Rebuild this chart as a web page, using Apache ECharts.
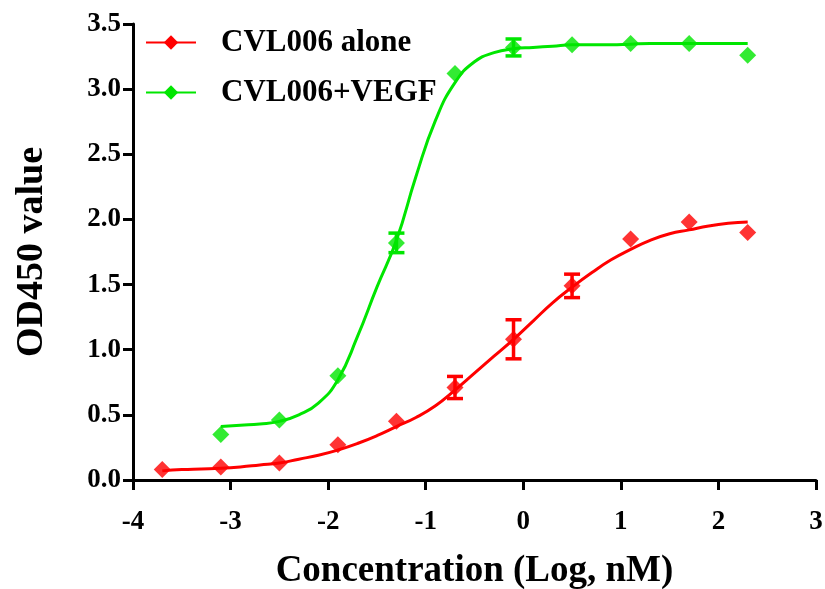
<!DOCTYPE html>
<html>
<head>
<meta charset="utf-8">
<script src="https://cdn.jsdelivr.net/npm/echarts@6/dist/echarts.min.js"></script>
<style>html,body{margin:0;padding:0;background:#fff}#c{width:825px;height:589px}</style>
</head>
<body>
<div id="c"></div>
<script>
// ---- data ----
const seriesNames = ['CVL006 alone', 'CVL006+VEGF'];
const xTicks = [-4, -3, -2, -1, 0, 1, 2, 3];
const yTicks = [0.0, 0.5, 1.0, 1.5, 2.0, 2.5, 3.0, 3.5];

const aloneX = [-3.7, -3.1, -2.5, -1.9, -1.3, -0.7, -0.1, 0.5, 1.1, 1.7, 2.3];
const aloneY = [0.08, 0.10, 0.13, 0.27, 0.45, 0.71, 1.08, 1.49, 1.85, 1.98, 1.90];
const aloneErr = [0, 0, 0, 0, 0, 0.085, 0.15, 0.09, 0, 0, 0];

const vegfX = [-3.1, -2.5, -1.9, -1.3, -0.7, -0.1, 0.5, 1.1, 1.7, 2.3];
const vegfY = [0.35, 0.46, 0.80, 1.82, 3.12, 3.32, 3.34, 3.35, 3.35, 3.26];
const vegfErr = [0, 0, 0, 0.075, 0, 0.065, 0, 0, 0, 0];

// fitted curves (every 0.2 log units)
const aloneCurveX = [-3.7, -3.5, -3.3, -3.1, -2.9, -2.7, -2.5, -2.3, -2.1, -1.9, -1.7, -1.5, -1.3, -1.1, -0.9, -0.7, -0.5, -0.3, -0.1, 0.1, 0.3, 0.5, 0.7, 0.9, 1.1, 1.3, 1.5, 1.7, 1.9, 2.1, 2.3];
const aloneCurveY = [0.07, 0.08, 0.085, 0.09, 0.10, 0.115, 0.13, 0.16, 0.19, 0.23, 0.28, 0.34, 0.41, 0.48, 0.57, 0.69, 0.82, 0.95, 1.08, 1.22, 1.36, 1.48, 1.59, 1.69, 1.77, 1.84, 1.89, 1.92, 1.95, 1.97, 1.98];
const vegfCurveX = [-3.1, -2.9, -2.7, -2.5, -2.3, -2.1, -1.9, -1.7, -1.5, -1.3, -1.1, -0.9, -0.7, -0.5, -0.3, -0.1, 0.1, 0.3, 0.5, 0.7, 0.9, 1.1, 1.3, 1.5, 1.7, 1.9, 2.1, 2.3];
const vegfCurveY = [0.41, 0.42, 0.43, 0.45, 0.50, 0.59, 0.77, 1.10, 1.48, 1.84, 2.33, 2.76, 3.05, 3.21, 3.28, 3.31, 3.32, 3.33, 3.34, 3.34, 3.34, 3.345, 3.35, 3.35, 3.35, 3.35, 3.35, 3.35];

const RED = '#ff0000';
const GREEN = '#00e600';
const FONT = 'Liberation Serif';

function pairs(xs, ys) { return xs.map((x, i) => [x, ys[i]]); }
function errData(xs, ys, es) {
  const out = [];
  xs.forEach((x, i) => { if (es[i] > 0) out.push([x, ys[i] - es[i], ys[i] + es[i]]); });
  return out;
}
function errSeries(data, color) {
  return {
    type: 'custom', silent: true, z: 4,
    data: data,
    renderItem: function (params, api) {
      const x = api.value(0);
      const lo = api.coord([x, api.value(1)]);
      const hi = api.coord([x, api.value(2)]);
      const w = 8;
      const st = { stroke: color, lineWidth: 3.5 };
      return {
        type: 'group',
        children: [
          { type: 'line', shape: { x1: lo[0], y1: lo[1], x2: hi[0], y2: hi[1] }, style: st },
          { type: 'line', shape: { x1: lo[0] - w, y1: lo[1], x2: lo[0] + w, y2: lo[1] }, style: st },
          { type: 'line', shape: { x1: hi[0] - w, y1: hi[1], x2: hi[0] + w, y2: hi[1] }, style: st }
        ]
      };
    }
  };
}

const chart = echarts.init(document.getElementById('c'));
chart.setOption({
  animation: false,
  backgroundColor: '#fff',
  grid: { left: 133, right: 9, top: 24, bottom: 109, containLabel: false, outerBoundsMode: 'none' },
  legend: {
    orient: 'vertical', left: 140, top: 22, itemGap: 19,
    itemWidth: 50, itemHeight: 18,
    data: seriesNames,
    textStyle: { fontFamily: FONT, fontWeight: 'bold', fontSize: 31, color: '#000', padding: [0, 0, 0, 20] }
  },
  xAxis: {
    type: 'value', min: xTicks[0], max: xTicks[xTicks.length - 1], interval: 1,
    name: 'Concentration (Log, nM)', nameLocation: 'middle', nameGap: 73,
    nameTextStyle: { fontFamily: FONT, fontWeight: 'bold', fontSize: 37, color: '#000' },
    axisLine: { onZero: false, lineStyle: { color: '#000', width: 3 } },
    axisTick: { length: 10, lineStyle: { color: '#000', width: 3 } },
    axisLabel: { fontFamily: FONT, fontWeight: 'bold', fontSize: 27, color: '#000', margin: 29 },
    splitLine: { show: false }
  },
  yAxis: {
    type: 'value', min: yTicks[0], max: yTicks[yTicks.length - 1], interval: 0.5,
    name: 'OD450 value', nameLocation: 'middle', nameGap: 82,
    nameTextStyle: { fontFamily: FONT, fontWeight: 'bold', fontSize: 38, color: '#000' },
    axisLine: { show: true, onZero: false, lineStyle: { color: '#000', width: 3 } },
    axisTick: { show: true, length: 10, lineStyle: { color: '#000', width: 3 } },
    axisLabel: { fontFamily: FONT, fontWeight: 'bold', fontSize: 27, color: '#000', margin: 12,
      formatter: v => v.toFixed(1) },
    splitLine: { show: false }
  },
  series: [
    { name: seriesNames[0], type: 'line', data: pairs(aloneCurveX, aloneCurveY), smooth: 0.5,
      symbol: 'diamond', symbolSize: 16, showSymbol: false, itemStyle: { color: RED },
      lineStyle: { color: RED, width: 3 }, z: 3 },
    { name: seriesNames[1], type: 'line', data: pairs(vegfCurveX, vegfCurveY), smooth: 0.5,
      symbol: 'diamond', symbolSize: 16, showSymbol: false, itemStyle: { color: GREEN },
      lineStyle: { color: GREEN, width: 3 }, z: 3 },
    { name: seriesNames[0], type: 'scatter', data: pairs(aloneX, aloneY), symbol: 'diamond', symbolSize: 17,
      itemStyle: { color: RED }, z: 5 },
    { name: seriesNames[1], type: 'scatter', data: pairs(vegfX, vegfY), symbol: 'diamond', symbolSize: 17,
      itemStyle: { color: GREEN }, z: 5 },
    errSeries(errData(aloneX, aloneY, aloneErr), RED),
    errSeries(errData(vegfX, vegfY, vegfErr), GREEN)
  ]
});
</script>
</body>
</html>
